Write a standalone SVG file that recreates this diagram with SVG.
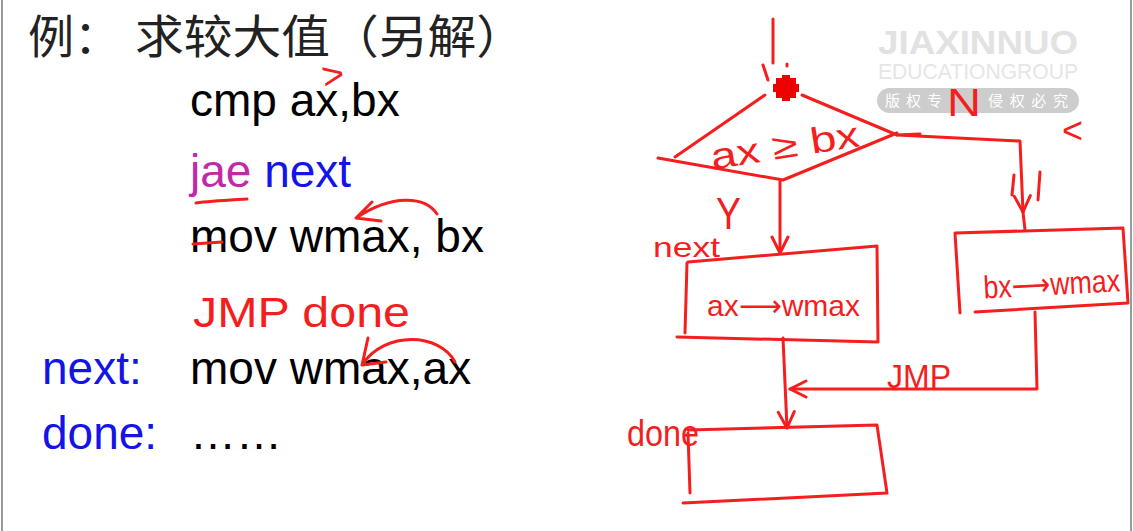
<svg xmlns="http://www.w3.org/2000/svg" width="1133" height="531" viewBox="0 0 1133 531">
<style>
.cn{font-family:"Noto Sans CJK SC","Noto Sans",sans-serif;fill:#222;font-size:46px;font-weight:400}
.code{font-family:"Liberation Sans",Arial,sans-serif;font-size:46px;fill:#000}
.blue{fill:#1414e8}
.mag{fill:#c02aa8}
.hw{font-family:"Liberation Sans",Arial,sans-serif;fill:#f41e1e}
.arr{font-family:"DejaVu Sans",sans-serif}
.ink{fill:none;stroke:#f41e1e;stroke-width:3;stroke-linecap:round;stroke-linejoin:round}
.wm1{font-family:"Liberation Sans",Arial,sans-serif;font-weight:bold;fill:#e2e2e2}
.wm2{font-family:"Noto Sans CJK SC",sans-serif;fill:#ffffff;font-size:15px}
</style>
<defs>
<marker id="chev" viewBox="0 0 20 20" refX="18" refY="10" markerWidth="20" markerHeight="20" markerUnits="userSpaceOnUse" orient="auto">
<path d="M2,2 L18,10 L2,18" fill="none" stroke="#f41e1e" stroke-width="3" stroke-linecap="round" stroke-linejoin="round"/>
</marker>
</defs>
<rect width="1133" height="531" fill="#ffffff"/>
<line x1="2" y1="0" x2="2" y2="531" stroke="#9a9a9a" stroke-width="2"/>
<line x1="1131" y1="0" x2="1131" y2="531" stroke="#9a9a9a" stroke-width="2"/>

<!-- watermark -->
<g id="watermark">
<text class="wm1" x="878" y="54" font-size="34" textLength="200" lengthAdjust="spacingAndGlyphs">JIAXINNUO</text>
<text class="wm1" x="878" y="79" font-size="22" textLength="200" lengthAdjust="spacingAndGlyphs" style="font-weight:normal;fill:#e6e6e6">EDUCATIONGROUP</text>
<rect x="877" y="88" width="202" height="25" rx="12.5" fill="#cdcdcd"/>
<text class="wm2" x="885" y="106" textLength="57" lengthAdjust="spacing">版权专</text>
<text class="wm2" x="988" y="106" textLength="80" lengthAdjust="spacing">侵权必究</text>
</g>

<!-- left: slide text -->
<g id="slide-text">
<text class="cn" x="28" y="53">例：</text>
<text class="cn" x="135" y="53" textLength="390" lengthAdjust="spacingAndGlyphs">求较大值（另解）</text>
<text class="code" x="190" y="116">cmp ax,bx</text>
<text class="code" x="190" y="187"><tspan class="mag">jae</tspan> <tspan class="blue">next</tspan></text>
<text class="code" x="190" y="252">mov wmax, bx</text>
<text class="code blue" x="42" y="384">next:</text>
<text class="code" x="190" y="384">mov wmax,ax</text>
<text class="code blue" x="42" y="449">done:</text>
<text class="code" x="190" y="449">……</text>
</g>

<!-- left: red annotations -->
<g id="annotations">
<text class="hw" x="322" y="88" font-size="38" transform="rotate(-10 332 76)">&gt;</text>
<path class="ink" d="M196,203 C212,201 232,200 247,199"/>
<path class="ink" d="M437,214 C425,196 392,194 356,218 M372,202 L356,218 L381,221"/>
<path class="ink" d="M193,244 L222,242" stroke-width="1.5"/>
<text class="hw" x="193" y="327" font-size="42" textLength="217" lengthAdjust="spacingAndGlyphs">JMP done</text>
<path class="ink" d="M455,362 C440,333 385,330 362,365 M368,338 L362,365 L386,362"/>
</g>

<!-- connectors -->
<g id="connectors">
<path class="ink" d="M773,19 L773,63"/>
<path class="ink" d="M763,65 L768,80 M787,64 L787,66"/>
<path class="ink" d="M780,180 L780,253" marker-end="url(#chev)"/>
<path class="ink" d="M897,135 L920,134 M897,135 L1020,141 L1023,212" marker-end="url(#chev)"/>
<path class="ink" d="M1023,212 L1025,230 M1014,175 L1012,195 M1040,172 L1038,200"/>
<path class="ink" d="M783,338 L787,428" marker-end="url(#chev)"/>
<path class="ink" d="M1035,312 L1037,389 L790,389" marker-end="url(#chev)"/>
</g>

<!-- decision -->
<g id="decision">
<path class="ink" d="M675,157 L765,95 M802,95 L897,135 M658,158 L783,180 L897,133"/>
<path d="M776,78 h20 v20 h-20 z M773,84 h26 v8 h-26 z M782,75 h8 v26 h-8 z" fill="#ee0000"/>
<text class="hw" x="785" y="158" font-size="36" text-anchor="middle" textLength="150" lengthAdjust="spacingAndGlyphs" transform="rotate(-9 785 147)">ax ≥ bx</text>
<text class="hw" x="947" y="116" font-size="38" textLength="34" lengthAdjust="spacingAndGlyphs">N</text>
<text class="hw" x="1062" y="143" font-size="36">&lt;</text>
<text class="hw" x="716" y="229" font-size="44" textLength="25" lengthAdjust="spacingAndGlyphs">Y</text>
</g>

<!-- box: ax -> wmax (next) -->
<g id="box-next">
<path class="ink" d="M688,262 L877,246 L878,342 L677,337 M687,263 L685,333"/>
<text class="hw" x="653" y="257" font-size="28" textLength="67" lengthAdjust="spacingAndGlyphs">next</text>
<text class="hw" x="707" y="316" font-size="30" textLength="153" lengthAdjust="spacingAndGlyphs">ax<tspan class="arr">⟶</tspan>wmax</text>
</g>

<!-- box: bx -> wmax -->
<g id="box-bx">
<path class="ink" d="M955,233 L1123,228 L1128,303 L975,312 M955,233 L960,313"/>
<text class="hw" x="983" y="295" font-size="32" textLength="137" lengthAdjust="spacingAndGlyphs" transform="rotate(-3 1050 280)">bx<tspan class="arr">⟶</tspan>wmax</text>
</g>

<!-- jump label -->
<g id="jmp-label">
<text class="hw" x="887" y="388" font-size="34" textLength="64" lengthAdjust="spacingAndGlyphs">JMP</text>
</g>

<!-- box: done -->
<g id="box-done">
<path class="ink" d="M688,430 L877,425 L887,493 L683,503 M688,433 L690,493"/>
<text class="hw" x="627" y="446" font-size="36" textLength="72" lengthAdjust="spacingAndGlyphs">done</text>
</g>
</svg>
